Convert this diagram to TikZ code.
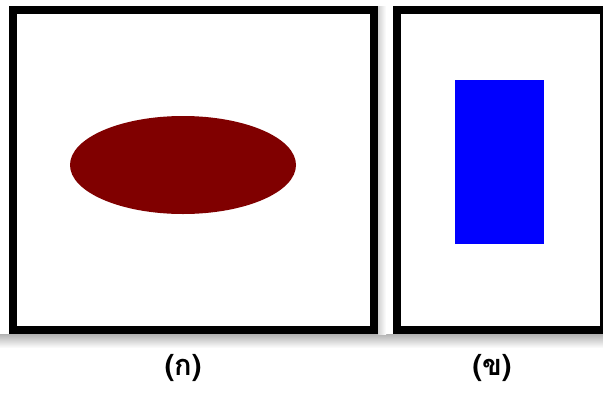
\documentclass[tikz,border=0pt]{standalone}
\usepackage{fontspec}
\newfontfamily\thaifont[Script=Thai]{Loma}
\definecolor{ellred}{HTML}{800000}
\definecolor{rectblue}{HTML}{0000FF}
\begin{document}
\begin{tikzpicture}[x=1pt,y=-1pt,
  frame/.style={draw=black,line width=8pt},
  lbl/.style={font=\thaifont\bfseries\fontsize{29}{33}\selectfont,text=black}]
\useasboundingbox (0,0) rectangle (603,392);
\fill[white] (0,0) rectangle (603,392);
\shade[top color=black!30,bottom color=white] (0,334) rectangle (603,348);
\shade[left color=black!18,right color=white] (378,6) rectangle (386,334);
\fill[white] (0,0) rectangle (603,6);
\node[frame,minimum width=361pt,minimum height=320pt,inner sep=0pt,fill=white] (boxA) at (193.5,170) {};
\begin{scope}
\clip (0,0) rectangle (603,392);
\node[frame,minimum width=207pt,minimum height=320pt,inner sep=0pt,fill=white] (boxB) at (500.5,170) {};
\end{scope}
\fill[ellred] (183,165) ellipse [x radius=113, y radius=49];
\fill[rectblue] (455,80) rectangle (544,244);
\node[lbl] (labA) at (183,368) {(ก)};
\node[lbl] (labB) at (492,368) {(ข)};
\end{tikzpicture}
\end{document}
